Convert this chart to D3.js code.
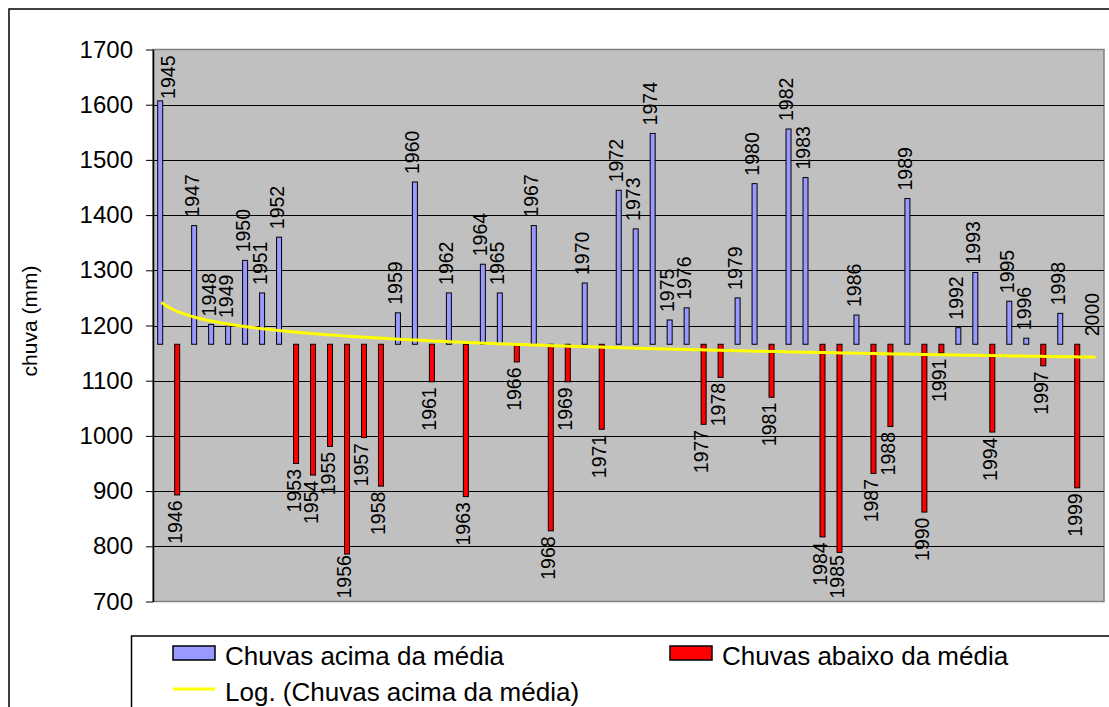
<!DOCTYPE html>
<html><head><meta charset="utf-8">
<script src="https://cdn.jsdelivr.net/npm/d3@7"></script>
<style>
body{margin:0;background:#fff}
svg{display:block}
text{font-family:"Liberation Sans",Arial,sans-serif;fill:#000}
</style>
</head><body>
<svg id="c" width="1109" height="707"></svg>
<script>
const years = [1945,1946,1947,1948,1949,1950,1951,1952,1953,1954,1955,1956,1957,1958,1959,1960,1961,1962,1963,1964,1965,1966,1967,1968,1969,1970,1971,1972,1973,1974,1975,1976,1977,1978,1979,1980,1981,1982,1983,1984,1985,1986,1987,1988,1989,1990,1991,1992,1993,1994,1995,1996,1997,1998,1999,2000];
const rainfall = [1607,893,1381,1202,1199,1318,1259,1360,950,929,981,786,997,909,1223,1460,1098,1259,890,1311,1259,1134,1381,828,1098,1277,1012,1445,1375,1548,1210,1232,1021,1106,1250,1457,1070,1556,1468,817,789,1219,932,1017,1430,862,1150,1196,1296,1007,1244,1177,1127,1222,906,1166];
const yTicks = [700,800,900,1000,1100,1200,1300,1400,1500,1600,1700];
const seriesNames = ["Chuvas acima da média","Chuvas abaixo da média","Log. (Chuvas acima da média)"];
const axisTitle = "chuva (mm)";
const colors = {above:"#9999FF", below:"#FF0000", trend:"#FFFF00", plotBg:"#C0C0C0"};

const plot = {left:153, right:1104, top:49.5, bottom:601.5};
const svg = d3.select("#c");

// outer chart border
svg.append("rect").attr("x",9).attr("y",9).attr("width",1400).attr("height",1000)
  .attr("fill","#fff").attr("stroke","#000").attr("stroke-width",1.5);

const x = d3.scaleBand().domain(years).range([plot.left, plot.right]).padding(0);
const y = d3.scaleLinear().domain([yTicks[0], yTicks[yTicks.length-1]]).range([plot.bottom, plot.top]);
const mean = d3.mean(rainfall);
const bw = x.bandwidth();

// plot background
svg.append("rect").attr("x",plot.left).attr("y",plot.top)
  .attr("width",plot.right-plot.left).attr("height",plot.bottom-plot.top)
  .attr("fill",colors.plotBg).attr("stroke","#808080").attr("stroke-width",1.5);

// gridlines
svg.append("g").selectAll("line").data(yTicks.slice(1,-1)).join("line")
  .attr("x1",plot.left).attr("x2",plot.right)
  .attr("y1",d=>Math.round(y(d))+0.5).attr("y2",d=>Math.round(y(d))+0.5)
  .attr("stroke","#000").attr("stroke-width",1);

// y axis
const yAxis = svg.append("g").attr("transform",`translate(${plot.left},0)`)
  .call(d3.axisLeft(y).tickValues(yTicks).tickSize(7).tickSizeOuter(0).tickPadding(13).tickFormat(d3.format("d")));
yAxis.select(".domain").attr("stroke","#000").attr("stroke-width",1.5);
yAxis.selectAll(".tick line").attr("stroke","#000").attr("stroke-width",1);
yAxis.selectAll(".tick text").attr("font-size",24).attr("font-family","'Liberation Sans',Arial,sans-serif").attr("fill","#000");

// axis title
svg.append("text").attr("transform","translate(37,321) rotate(-90)")
  .attr("text-anchor","middle").attr("font-size",21).text(axisTitle);

// bars
const data = rainfall.map((v,i)=>({year:years[i], v, up: v>=mean}));
const cx = d => x(d.year) + bw/2 - 1.3;
svg.append("g").selectAll("rect").data(data).join("rect")
  .attr("x",d=>cx(d)-2.5).attr("width",5)
  .attr("y",d=>Math.min(y(d.v),y(mean)))
  .attr("height",d=>Math.abs(y(d.v)-y(mean)))
  .attr("fill",d=>d.up?colors.above:colors.below)
  .attr("stroke","#000").attr("stroke-width",1);

// labels
const lab = svg.append("g").selectAll("text").data(data).join("text")
  .attr("font-size",19.5)
  .attr("text-anchor",d=>d.up?"start":"end")
  .attr("dy",4.5)
  .text(d=>d.year);
lab.attr("transform",function(d){
  const len = this.getComputedTextLength();
  let px = cx(d), py;
  if (d.up) {
    py = y(d.v) - 8;
    if (py - len < plot.top + 6) { py = plot.top + 6 + len; px += 10.5; }
  } else {
    py = y(d.v) + 5.5;
    if (py + len > plot.bottom - 3 && py + len < plot.bottom + 4) { py = plot.bottom - 3 - len; }
  }
  return `translate(${px},${py}) rotate(-90)`;
});

// logarithmic trendline (least squares on ln(index))
const lx = rainfall.map((v,i)=>Math.log(i+1));
const mx = d3.mean(lx);
const a = d3.sum(lx.map((l,i)=>(l-mx)*(rainfall[i]-mean))) / d3.sum(lx.map(l=>(l-mx)*(l-mx)));
const b = mean - a*mx;
const xi = d3.scaleLinear().domain([1, years.length])
  .range([x(years[0])+bw/2, x(years[years.length-1])+bw/2]);
const tpts = d3.range(1, years.length+0.001, 0.25);
svg.append("path").datum(tpts)
  .attr("d", d3.line().x(t=>xi(t)).y(t=>y(a*Math.log(t)+b)))
  .attr("fill","none").attr("stroke",colors.trend).attr("stroke-width",3);

// legend
const lg = svg.append("g");
lg.append("rect").attr("x",131.5).attr("y",636).attr("width",1200).attr("height",200)
  .attr("fill","#fff").attr("stroke","#000").attr("stroke-width",1.5);
lg.append("rect").attr("x",173).attr("y",646).attr("width",42).attr("height",14)
  .attr("fill",colors.above).attr("stroke","#000").attr("stroke-width",1.5);
lg.append("text").attr("x",225).attr("y",656).attr("dy","0.36em").attr("font-size",26).text(seriesNames[0]);
lg.append("rect").attr("x",670).attr("y",646).attr("width",42).attr("height",14)
  .attr("fill",colors.below).attr("stroke","#000").attr("stroke-width",1.5);
lg.append("text").attr("x",722).attr("y",656).attr("dy","0.36em").attr("font-size",26).text(seriesNames[1]);
lg.append("line").attr("x1",173).attr("x2",215).attr("y1",689).attr("y2",689)
  .attr("stroke",colors.trend).attr("stroke-width",3);
lg.append("text").attr("x",225).attr("y",692).attr("dy","0.36em").attr("font-size",26).text(seriesNames[2]);
</script>
</body></html>
